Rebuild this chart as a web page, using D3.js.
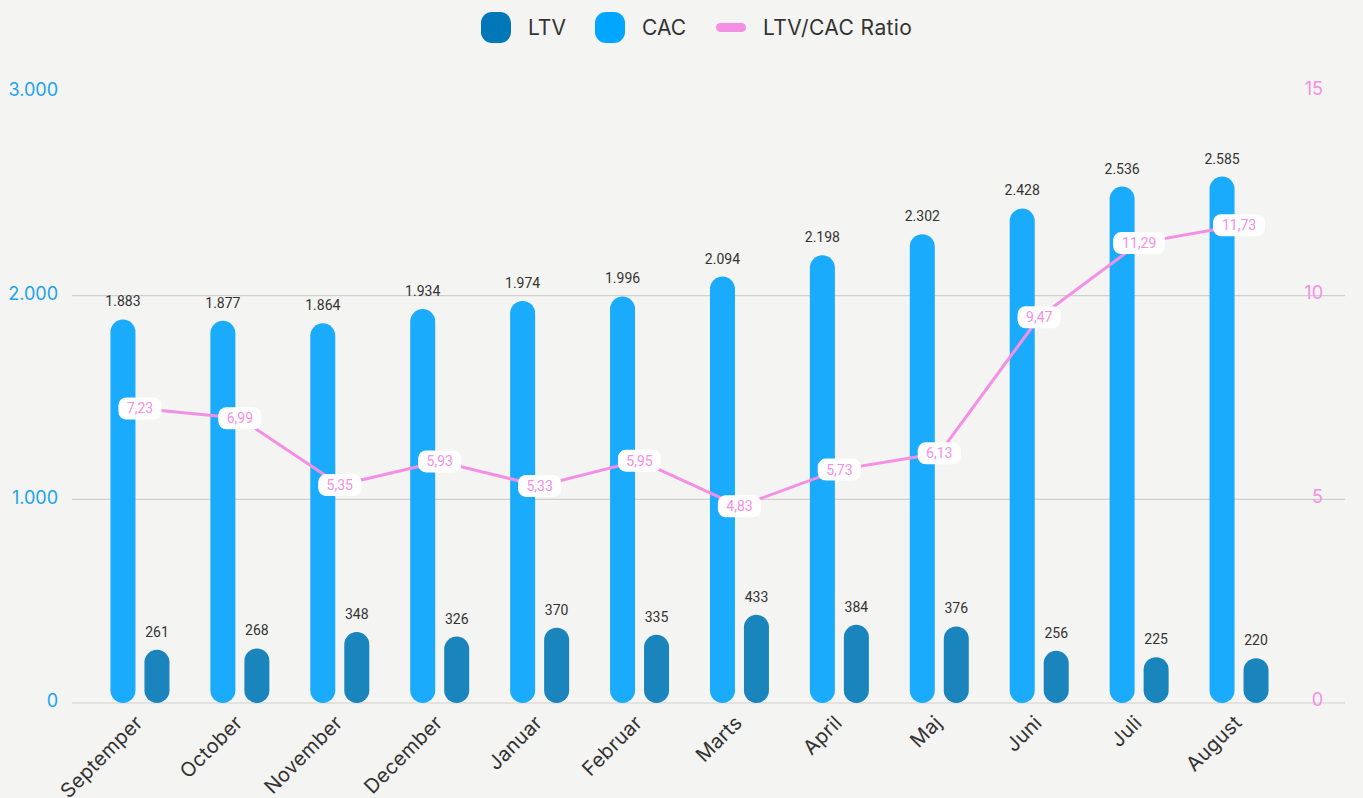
<!DOCTYPE html>
<html>
<head>
<meta charset="utf-8">
<script src="https://cdnjs.cloudflare.com/ajax/libs/d3/7.8.5/d3.min.js"></script>
<style>
  html, body { margin: 0; padding: 0; background: #f4f4f2; }
  svg { display: block; }
</style>
</head>
<body>
<div id="chart"></div>
<script>
const months = ['Septemper', 'October', 'November', 'December', 'Januar', 'Februar', 'Marts', 'April', 'Maj', 'Juni', 'Juli', 'August'];
const cacValues = [1883, 1877, 1864, 1934, 1974, 1996, 2094, 2198, 2302, 2428, 2536, 2585];
const ltvValues = [261, 268, 348, 326, 370, 335, 433, 384, 376, 256, 225, 220];
const ratioValues = [7.23, 6.99, 5.35, 5.93, 5.33, 5.95, 4.83, 5.73, 6.13, 9.47, 11.29, 11.73];
const leftTicks = [0, 1000, 2000, 3000];
const rightTicks = [0, 5, 10, 15];

const W = 1363, H = 798;
const colLTV = '#1a84bd', colCAC = '#1aabfc', colRatio = '#f48fe6';
const legLTV = '#0077b6', legCAC = '#00a6ff';

const da = d3.formatLocale({decimal: ',', thousands: '.', grouping: [3], currency: ['', ' kr.']});
const fmtInt = da.format(',d');
const fmtDec = da.format(',.2f');

const svg = d3.select('#chart').append('svg')
  .attr('width', W).attr('height', H)
  .attr('viewBox', '0 0 ' + W + ' ' + H)
  .style('font-family', 'Inter, Roboto, sans-serif');

svg.append('rect').attr('width', W).attr('height', H).attr('fill', '#f4f4f2');

const x = d3.scaleBand().domain(months).range([90, 1289]);
const y = d3.scaleLinear().domain([0, 3000]).range([703, 92]);
const yR = d3.scaleLinear().domain([0, 15]).range([703, 92]);

// gridlines
svg.append('g').selectAll('line').data(leftTicks.filter(d => d < 3000)).join('line')
  .attr('x1', 72).attr('x2', 1345)
  .attr('y1', d => y(d)).attr('y2', d => y(d))
  .attr('stroke', '#cfcfcd').attr('stroke-width', 1.2);

// left axis
const gl = svg.append('g').attr('transform', 'translate(58,-2)')
  .call(d3.axisLeft(y).tickValues(leftTicks).tickSize(0).tickPadding(0).tickFormat(fmtInt));
gl.select('.domain').remove();
gl.selectAll('text').attr('fill', '#1aa3ef').style('font-size', '18px').style('font-family', 'Inter, sans-serif');

// right axis
const gr = svg.append('g').attr('transform', 'translate(1323,-3)')
  .call(d3.axisLeft(yR).tickValues(rightTicks).tickSize(0).tickPadding(0));
gr.select('.domain').remove();
gr.selectAll('text').attr('fill', colRatio).style('font-size', '18px').style('font-family', 'Inter, sans-serif');

// bars
const bw = 25, off = 17;
const rows = months.map((m, i) => ({m, cac: cacValues[i], ltv: ltvValues[i], ratio: ratioValues[i]}));

const roundBar = (sel, key, dx, color) => {
  sel.append('g').selectAll('rect').data(rows).join('rect')
    .attr('x', d => x(d.m) + x.bandwidth() / 2 + dx - bw / 2)
    .attr('y', d => y(d[key]))
    .attr('width', bw)
    .attr('height', d => y(0) - y(d[key]))
    .attr('rx', bw / 2)
    .attr('fill', color);
  sel.append('g').selectAll('text').data(rows).join('text')
    .attr('x', d => x(d.m) + x.bandwidth() / 2 + dx)
    .attr('y', d => y(d[key]) - 13)
    .attr('text-anchor', 'middle')
    .attr('fill', '#333')
    .style('font-family', 'Roboto, sans-serif')
    .style('font-size', '14px')
    .text(d => fmtInt(d[key]));
};
roundBar(svg, 'cac', -off, colCAC);
roundBar(svg, 'ltv', off, colLTV);

// x labels
svg.append('g').selectAll('text').data(months).join('text')
  .attr('transform', d => 'translate(' + (x(d) + x.bandwidth() / 2 + 4) + ',724) rotate(-45)')
  .attr('text-anchor', 'end')
  .attr('fill', '#333')
  .style('font-size', '20px')
  .style('letter-spacing', '0.3px')
  .text(d => d);

// ratio line
const line = d3.line()
  .x(d => x(d.m) + x.bandwidth() / 2)
  .y(d => yR(d.ratio));
svg.append('path').datum(rows)
  .attr('d', line)
  .attr('fill', 'none')
  .attr('stroke', colRatio)
  .attr('stroke-width', 3);

const rl = svg.append('g').selectAll('g').data(rows).join('g')
  .attr('transform', d => 'translate(' + (x(d.m) + x.bandwidth() / 2) + ',' + yR(d.ratio) + ')');
rl.append('rect')
  .attr('x', d => -(fmtDec(d.ratio).length * 4.4) - 4)
  .attr('y', -11)
  .attr('width', d => fmtDec(d.ratio).length * 8.8 + 8)
  .attr('height', 22)
  .attr('rx', 8)
  .attr('fill', '#fff');
rl.append('text')
  .attr('text-anchor', 'middle')
  .attr('dy', '0.35em')
  .attr('fill', colRatio)
  .style('font-family', 'Roboto, sans-serif')
  .style('font-size', '14px')
  .text(d => fmtDec(d.ratio));

// legend
const legend = svg.append('g').attr('transform', 'translate(481,12)');
legend.append('rect').attr('x', 0).attr('y', 0).attr('width', 30).attr('height', 31).attr('rx', 11).attr('fill', legLTV);
legend.append('text').attr('x', 47).attr('y', 16).attr('dy', '0.35em').attr('fill', '#333').style('font-size', '21px').text('LTV');
legend.append('rect').attr('x', 114).attr('y', 0).attr('width', 30).attr('height', 31).attr('rx', 11).attr('fill', legCAC);
legend.append('text').attr('x', 161).attr('y', 16).attr('dy', '0.35em').attr('fill', '#333').style('font-size', '21px').text('CAC');
legend.append('rect').attr('x', 235).attr('y', 11).attr('width', 30).attr('height', 9).attr('rx', 4.5).attr('fill', colRatio);
legend.append('text').attr('x', 282).attr('y', 16).attr('dy', '0.35em').attr('fill', '#333').style('font-size', '21px').style('letter-spacing', '0.4px').text('LTV/CAC Ratio');
</script>
</body>
</html>
